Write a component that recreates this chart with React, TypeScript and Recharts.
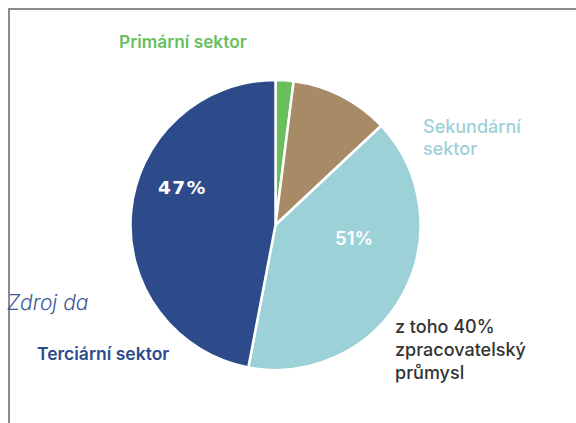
import { Cell, Pie, PieChart } from "recharts";

const sectors = ["Primární sektor", "Sekundární – ostatní", "Zpracovatelský průmysl", "Terciární sektor"];
const shares = [2, 11, 40, 47];
const colors = ["#6abf5d", "#a78b67", "#9dd1d8", "#2d4b8b"];

const data = sectors.map((name, i) => ({ name, value: shares[i] }));

const secondaryTotal = shares[1] + shares[2];
const tertiaryTotal = shares[3];

const font = "Inter, 'Liberation Sans', sans-serif";

export default function App() {
  return (
    <div style={{ position: "absolute", left: 0, top: 0, width: 576, height: 423, background: "#fff", overflow: "hidden", fontFamily: font }}>
      <div style={{ position: "absolute", left: 8, top: 8, width: 568, height: 2, background: "#8c8c8c" }} />
      <div style={{ position: "absolute", left: 8, top: 8, width: 2, height: 415, background: "#8c8c8c" }} />
      <PieChart width={576} height={423} margin={{ top: 0, right: 0, bottom: 0, left: 0 }} style={{ position: "absolute", left: 0, top: 0 }}>
        <Pie
          data={data}
          dataKey="value"
          cx={275.5}
          cy={225}
          outerRadius={145}
          startAngle={90}
          endAngle={-270}
          stroke="#ffffff"
          strokeWidth={2.5}
          isAnimationActive={false}
        >
          {data.map((d, i) => (
            <Cell key={d.name} fill={colors[i]} />
          ))}
        </Pie>
      </PieChart>
      <div style={{ position: "absolute", left: 158, top: 177, color: "#fff", fontWeight: 700, fontSize: 18.5, letterSpacing: 1.5, fontFamily: "'DejaVu Sans', sans-serif" }}>{tertiaryTotal}%</div>
      <div style={{ position: "absolute", left: 335, top: 227, color: "#fff", fontWeight: 600, fontSize: 18.5 }}>{secondaryTotal}%</div>
      <div style={{ position: "absolute", left: 119, top: 31, color: "#6abf5d", fontWeight: 600, fontSize: 17.3 }}>{sectors[0]}</div>
      <div style={{ position: "absolute", left: 423, top: 116, color: "#9dd1d8", fontWeight: 500, fontSize: 18, lineHeight: "22px" }}>
        Sekundární
        <br />
        sektor
      </div>
      <div style={{ position: "absolute", left: 7, top: 290, width: 81, overflow: "hidden", whiteSpace: "nowrap", color: "#3a5a9a", fontStyle: "italic", fontSize: 21, fontWeight: 300 }}>
        Zdroj dat: ČSÚ
      </div>
      <div style={{ position: "absolute", left: 37, top: 343, color: "#2d4b8b", fontWeight: 600, fontSize: 17.5 }}>{sectors[3]}</div>
      <div style={{ position: "absolute", left: 395, top: 315, color: "#333", fontWeight: 500, fontSize: 18, lineHeight: "23px" }}>
        z toho {shares[2]}%
        <br />
        zpracovatelský
        <br />
        průmysl
      </div>
    </div>
  );
}
